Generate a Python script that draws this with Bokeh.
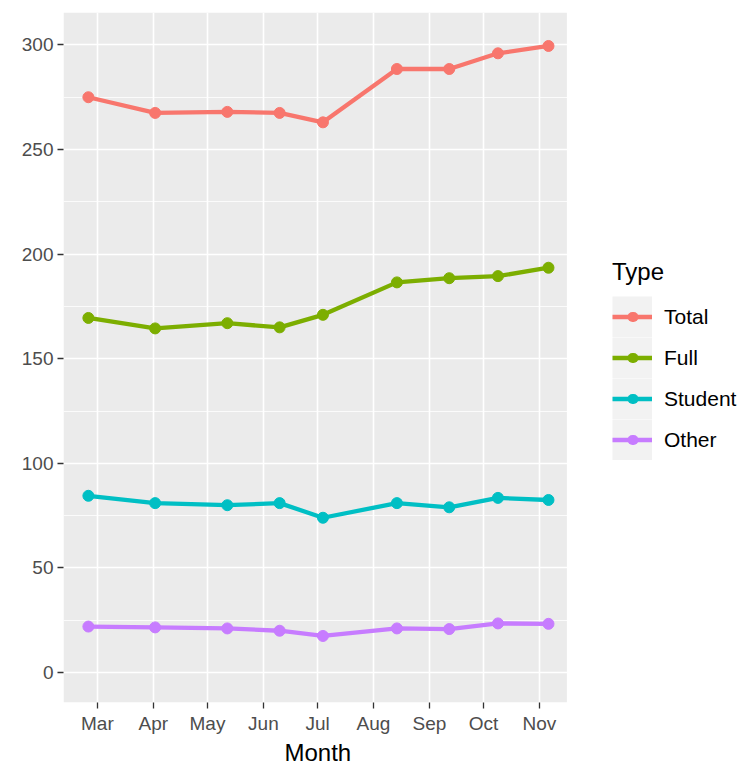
import datetime as dt
from bokeh.plotting import figure
from bokeh.models import (Range1d, FixedTicker, DatetimeTickFormatter, Legend,
                          LegendItem, ColumnDataSource, BoxAnnotation, Title)
from bokeh.embed import file_html
from bokeh.resources import INLINE

# ---- data ----
dates = ["2021-02-24", "2021-04-02", "2021-05-12", "2021-06-10", "2021-07-04",
         "2021-08-14", "2021-09-12", "2021-10-09", "2021-11-06"]
series_names = ["Total", "Full", "Student", "Other"]
total = [275, 267.5, 268, 267.5, 263, 288.5, 288.5, 296, 299.5]
full = [169.5, 164.5, 167, 165, 171, 186.5, 188.5, 189.5, 193.5]
student = [84.5, 81, 80, 81, 74, 81, 79, 83.5, 82.5]
other = [22, 21.6, 21.1, 20, 17.5, 21.1, 20.8, 23.5, 23.3]
series_colors = ["#F8766D", "#7CAE00", "#00BFC4", "#C77CFF"]

x_tick_dates = ["2021-03-01", "2021-04-01", "2021-05-01", "2021-06-01", "2021-07-01",
                "2021-08-01", "2021-09-01", "2021-10-01", "2021-11-01"]
y_ticks = [0, 50, 100, 150, 200, 250, 300]
y_minor_ticks = [25, 75, 125, 175, 225, 275]
x_limits = ("2021-02-10T05:00", "2021-11-16T05:00")
y_limits = (-14.3, 315.5)


def to_ms(s):
    d = dt.datetime.fromisoformat(s).replace(tzinfo=dt.timezone.utc)
    return d.timestamp() * 1000.0


x_start, x_end = to_ms(x_limits[0]), to_ms(x_limits[1])

# layout: the grey panel is 503 px wide; the drawing frame runs on to the
# right edge so that the legend can sit inside it
W, H, LEFT = 748, 765, 63
PANEL_PX = 503.4
FRAME_PX = W - LEFT
x_frame_end = x_start + (x_end - x_start) * FRAME_PX / PANEL_PX

FONT = "Liberation Sans"

p = figure(width=W, height=H, x_axis_type="datetime",
           x_range=Range1d(x_start, x_frame_end), y_range=Range1d(*y_limits),
           output_backend="svg", toolbar_location=None,
           min_border_left=LEFT, min_border_top=12, min_border_right=0,
           min_border_bottom=30)
p.background_fill_color = "white"
p.border_fill_color = "white"
p.outline_line_color = None

# grey plotting panel
p.add_layout(BoxAnnotation(left=x_start, right=x_end, fill_color="#EBEBEB",
                           fill_alpha=1, line_color=None, level="image"))

# axes
p.xaxis.ticker = FixedTicker(ticks=[to_ms(d) for d in x_tick_dates])
fmt = "%b"
p.xaxis.formatter = DatetimeTickFormatter(
    microseconds=fmt, milliseconds=fmt, seconds=fmt, minsec=fmt, minutes=fmt,
    hourmin=fmt, hours=fmt, days=fmt, months=fmt, years=fmt)
p.yaxis.ticker = FixedTicker(ticks=y_ticks, minor_ticks=y_minor_ticks)

for ax in (p.xaxis, p.yaxis):
    ax.axis_line_color = None
    ax.major_tick_line_color = "#333333"
    ax.major_tick_line_width = 1.3
    ax.major_tick_out = 6
    ax.major_tick_in = 0
    ax.minor_tick_line_color = None
    ax.major_label_text_font = FONT
    ax.major_label_text_font_size = "19px"
    ax.major_label_text_color = "#4D4D4D"
    ax.major_label_standoff = 4

p.add_layout(Title(text="Month", align="left", offset=221, standoff=0,
                   text_font=FONT, text_font_size="24px",
                   text_font_style="normal", text_color="black"), "below")

p.xgrid.grid_line_color = "white"
p.xgrid.grid_line_width = 1.6
p.ygrid.grid_line_color = "white"
p.ygrid.grid_line_width = 1.6
p.ygrid.minor_grid_line_color = "white"
p.ygrid.minor_grid_line_width = 0.8

# legend-only helpers (a single point draws no line inside the panel)
one_x = [dt.datetime.fromisoformat(dates[0])]
band = p.line(x=one_x, y=[total[0]], line_width=41, line_color="#F2F2F2")

items = []
for name, vals, col in zip(series_names, [total, full, student, other], series_colors):
    src = ColumnDataSource(dict(x=[dt.datetime.fromisoformat(d) for d in dates], y=vals))
    ln = p.line("x", "y", source=src, line_width=4.3, line_color=col)
    p.scatter("x", "y", source=src, size=11, fill_color=col, line_color=col)
    dot = p.line(x=one_x, y=[vals[0]], line_width=10, line_color=col,
                 line_cap="round", line_dash="1 39", line_dash_offset=20)
    items.append(LegendItem(label=name, renderers=[band, ln, dot]))

legend = Legend(items=items, location=(549, 242))
legend.title = "Type"
legend.title_text_font = FONT
legend.title_text_font_size = "24px"
legend.title_text_font_style = "normal"
legend.title_text_color = "black"
legend.title_standoff = 10
legend.label_text_font = FONT
legend.label_text_font_size = "21px"
legend.label_text_color = "black"
legend.label_standoff = 12
legend.glyph_width = 40
legend.glyph_height = 41
legend.spacing = 0
legend.padding = 0
legend.margin = 0
legend.border_line_color = None
legend.background_fill_alpha = 0
p.add_layout(legend, "center")

open("out.html", "w").write(file_html(p, INLINE))
